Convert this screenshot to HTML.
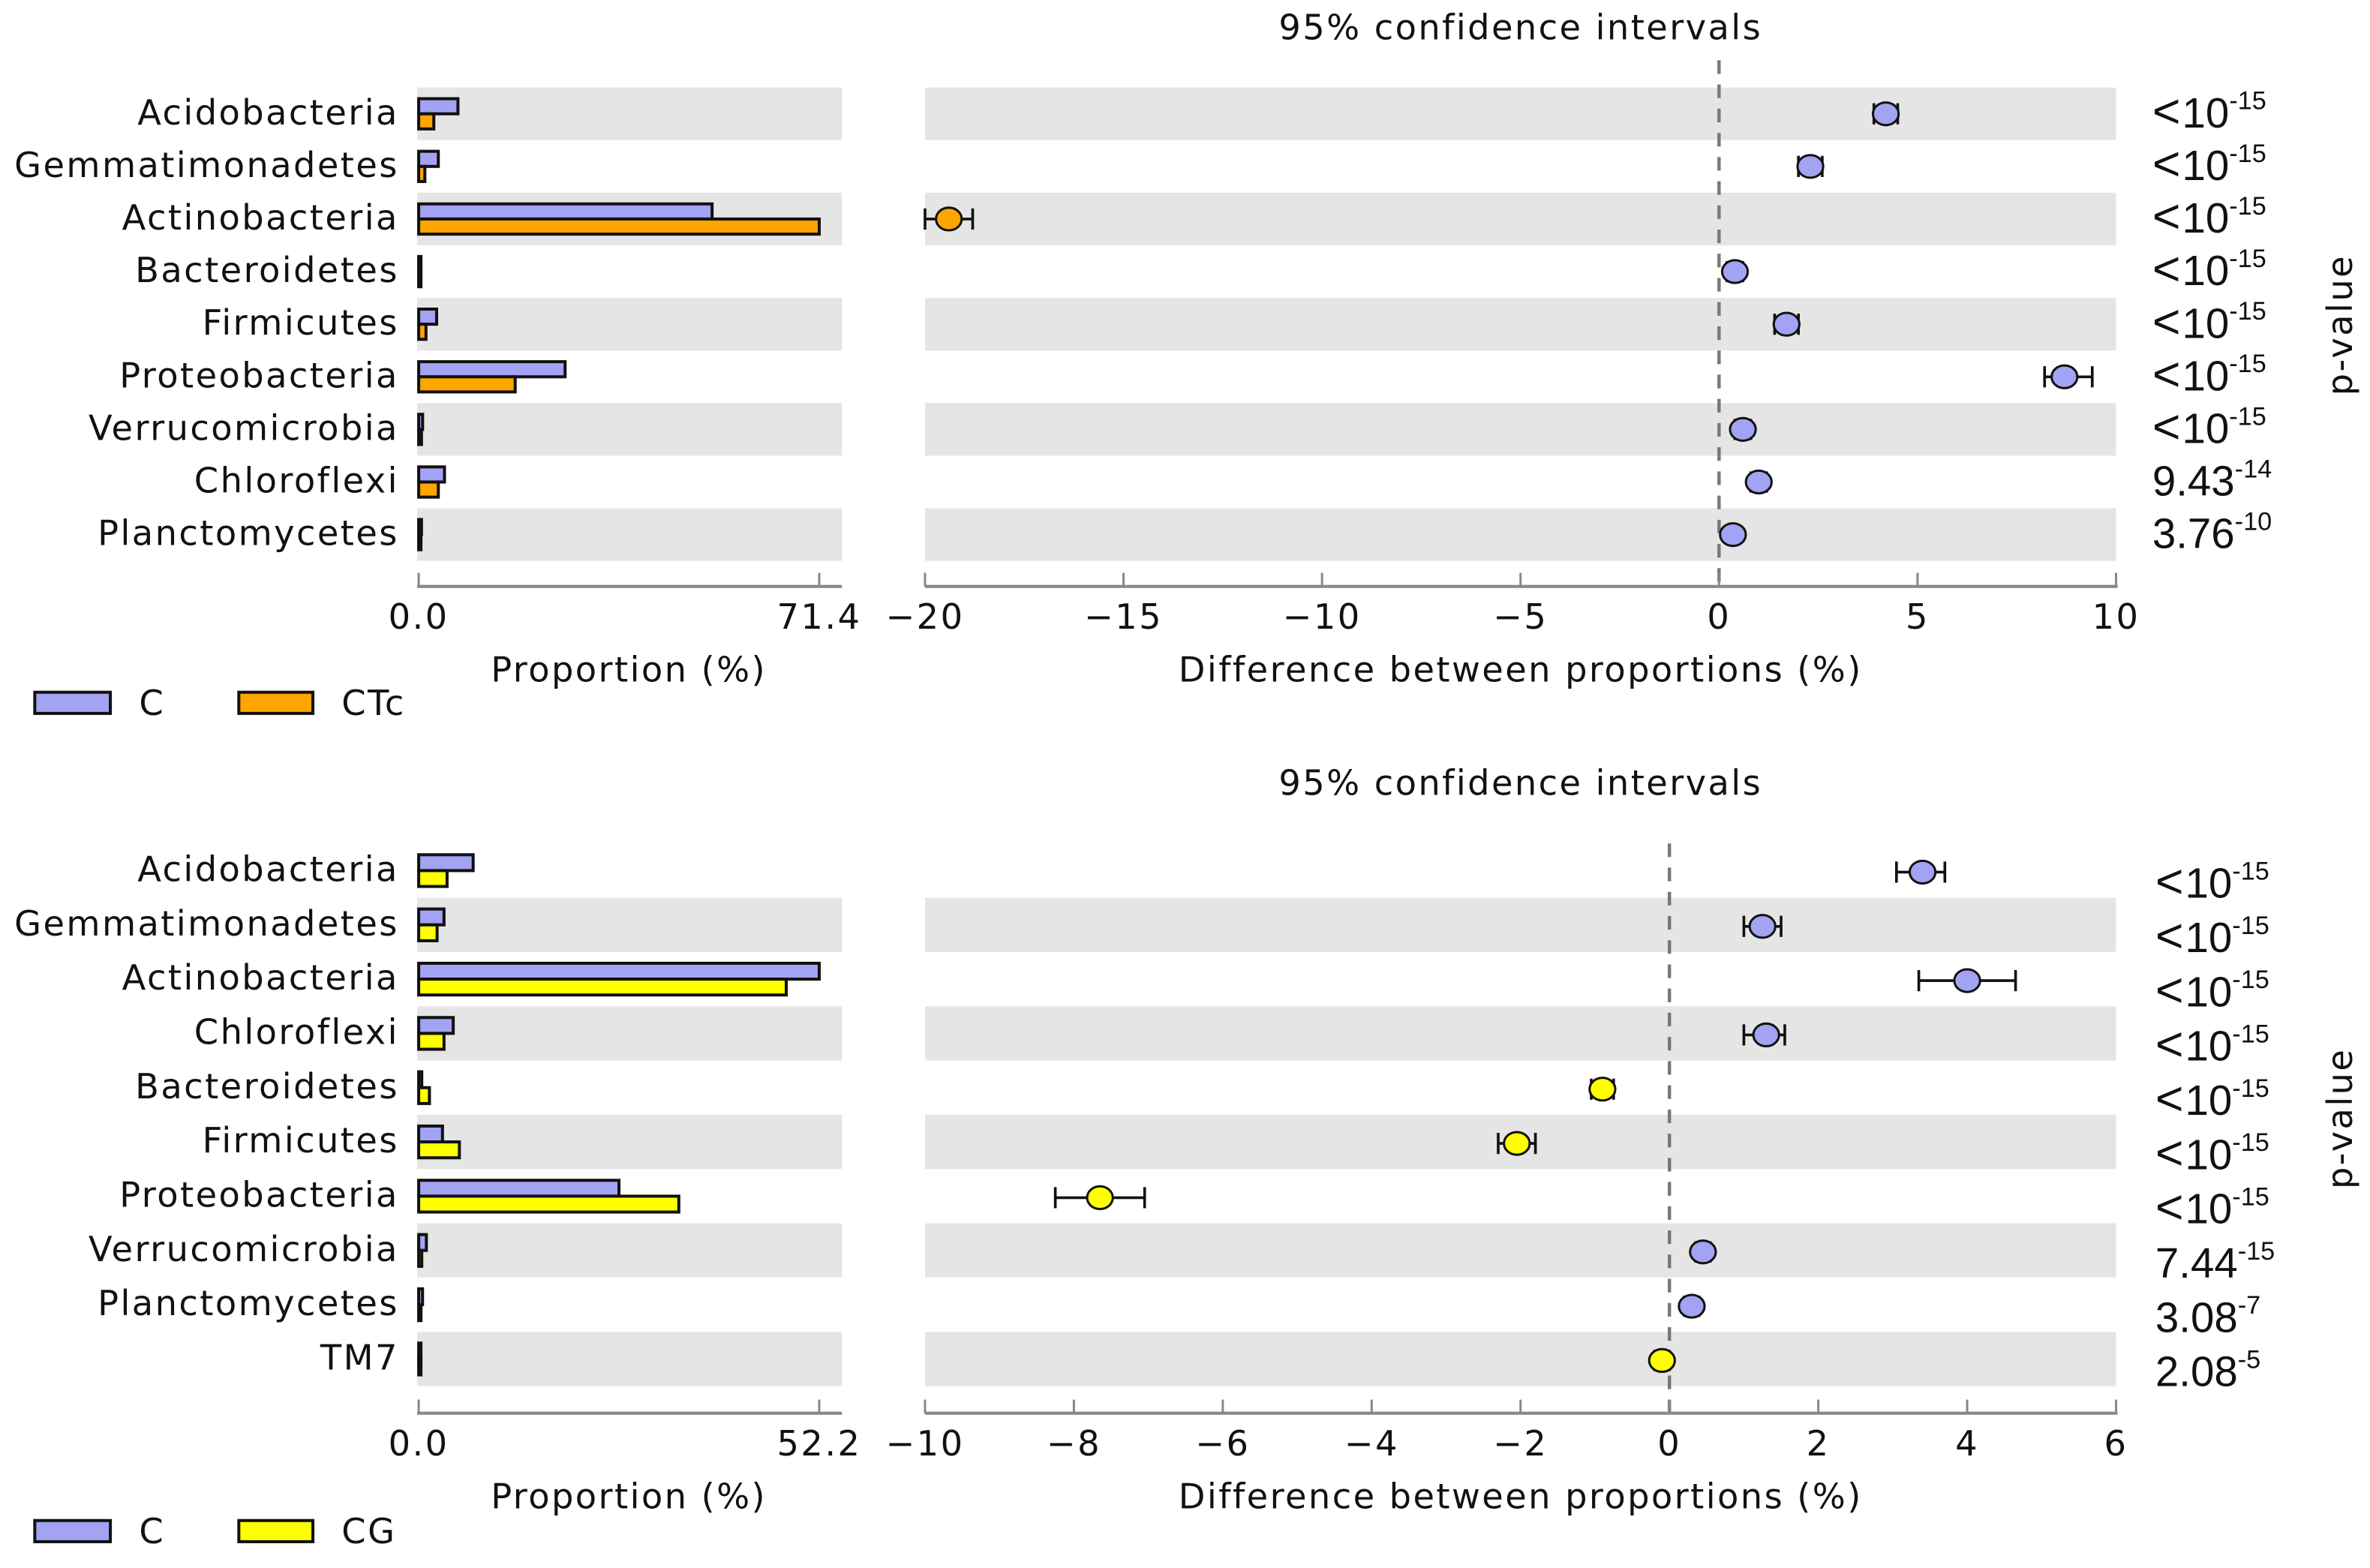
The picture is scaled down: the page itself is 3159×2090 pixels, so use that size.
<!DOCTYPE html>
<html><head><meta charset="utf-8"><style>
html,body{margin:0;padding:0;background:#fff;}
svg{display:block;font-family:"DejaVu Sans","Liberation Sans",sans-serif;}
</style></head><body>
<svg id="chart" width="3159" height="2090" viewBox="0 0 1568 1037.4" xmlns="http://www.w3.org/2000/svg"></svg>
<script>
// ---- Top panel data (C vs CTc) ----
const topCats = ["Acidobacteria","Gemmatimonadetes","Actinobacteria","Bacteroidetes","Firmicutes","Proteobacteria","Verrucomicrobia","Chloroflexi","Planctomycetes"];
const topC = [7.0,3.5,52.3,0.4,3.2,26.1,0.7,4.6,0.5];
const topT = [2.7,1.1,71.4,0.2,1.3,17.2,0.5,3.5,0.3];
const topDiff = [4.2,2.3,-19.4,0.4,1.7,8.7,0.6,1.0,0.35];
const topLo = [3.9,2.0,-20.0,0.2,1.4,8.2,0.4,0.8,0.2];
const topHi = [4.5,2.6,-18.8,0.6,2.0,9.4,0.8,1.2,0.5];
const topPBase = ["<10","<10","<10","<10","<10","<10","<10","9.43","3.76"];
const topPExp = ["-15","-15","-15","-15","-15","-15","-15","-14","-10"];
const topDiffTicks = [-20,-15,-10,-5,0,5,10];
// ---- Bottom panel data (C vs CG) ----
const botCats = ["Acidobacteria","Gemmatimonadetes","Actinobacteria","Chloroflexi","Bacteroidetes","Firmicutes","Proteobacteria","Verrucomicrobia","Planctomycetes","TM7"];
const botC = [7.1,3.3,52.2,4.5,0.4,3.1,26.1,1.0,0.5,0.1];
const botG = [3.7,2.4,47.9,3.3,1.4,5.3,33.9,0.4,0.3,0.1];
const botDiff = [3.4,1.25,4.0,1.3,-0.9,-2.05,-7.65,0.45,0.3,-0.1];
const botLo = [3.05,1.0,3.35,1.0,-1.05,-2.3,-8.25,0.35,0.2,-0.2];
const botHi = [3.7,1.5,4.65,1.55,-0.75,-1.8,-7.05,0.55,0.4,0.0];
const botPBase = ["<10","<10","<10","<10","<10","<10","<10","7.44","3.08","2.08"];
const botPExp = ["-15","-15","-15","-15","-15","-15","-15","-15","-7","-5"];
const botDiffTicks = [-10,-8,-6,-4,-2,0,2,4,6];

const NS="http://www.w3.org/2000/svg";
const svg=document.getElementById('chart');
function mk(tag,attrs,parent,text){const e=document.createElementNS(NS,tag);for(const k in attrs)e.setAttribute(k,attrs[k]);if(text!==undefined)e.textContent=text;(parent||svg).appendChild(e);return e;}
const LAV="#a3a3f3";
const FS=23, LS=1.2;

function panel(o){
  const g=mk('g',{});
  
  
  const n=o.cats.length;
  const rowY=i=>o.y0+i*o.step;
  const px=v=>277+(v/o.pmax)*265;
  const dx=v=>612+(v-o.dmin)/(o.dmax-o.dmin)*788;
  for(let i=0;i<n;i++){
    if(i%2===o.greyParity){
      const b=mk('rect',{x:276,y:rowY(i)-o.step/2,width:281,height:o.step,fill:"#e5e5e5"},g);
      
      const b2=mk('rect',{x:612,y:rowY(i)-o.step/2,width:788,height:o.step,fill:"#e5e5e5"},g);
      
    }
  }
  const zl=mk('line',{x1:dx(0),x2:dx(0),y1:rowY(0)-o.step/2-(o.dashExtra||0),y2:o.axisY,stroke:"#777","stroke-width":2.2,"stroke-dasharray":"9,7"},g);
  
  mk('line',{x1:276,x2:557,y1:o.axisY,y2:o.axisY,stroke:"#888","stroke-width":2},g);
  mk('line',{x1:612,x2:1401,y1:o.axisY,y2:o.axisY,stroke:"#888","stroke-width":2},g);
  [[0,"0.0"],[o.pmax,String(o.pmax)]].forEach(t=>{
    mk('line',{x1:px(t[0]),x2:px(t[0]),y1:o.axisY,y2:o.axisY-9,stroke:"#888","stroke-width":1.5},g);
    const tl=mk('text',{x:px(t[0]),y:o.axisY+28,"text-anchor":"middle","font-size":FS,"letter-spacing":LS,fill:"#111"},g,t[1]);
    
  });
  o.ticks.forEach(t=>{
    mk('line',{x1:dx(t),x2:dx(t),y1:o.axisY,y2:o.axisY-9,stroke:"#888","stroke-width":1.5},g);
    const tl=mk('text',{x:dx(t),y:o.axisY+28,"text-anchor":"middle","font-size":FS,"letter-spacing":LS,fill:"#111"},g,(t<0?"\u2212":"")+Math.abs(t));
    
  });
  for(let i=0;i<n;i++){
    const y=rowY(i);
    const lab=mk('text',{x:264,y:y+7,"text-anchor":"end","font-size":FS,"letter-spacing":LS,fill:"#111"},g,o.cats[i]);
    
    const b1=mk('rect',{x:277,y:y-o.bh,width:Math.max(px(o.a[i])-277,1.5),height:o.bh,fill:LAV,stroke:"#111","stroke-width":2},g);
    
    const b2=mk('rect',{x:277,y:y,width:Math.max(px(o.b[i])-277,1.5),height:o.bh,fill:o.color,stroke:"#111","stroke-width":2},g);
    
    const ey=y+o.dotOff;
    mk('line',{x1:dx(o.lo[i]),x2:dx(o.hi[i]),y1:ey,y2:ey,stroke:"#111","stroke-width":1.8},g);
    mk('line',{x1:dx(o.lo[i]),x2:dx(o.lo[i]),y1:ey-7,y2:ey+7,stroke:"#111","stroke-width":1.8},g);
    mk('line',{x1:dx(o.hi[i]),x2:dx(o.hi[i]),y1:ey-7,y2:ey+7,stroke:"#111","stroke-width":1.8},g);
    const dot=mk('ellipse',{cx:dx(o.d[i]),cy:ey,rx:8.5,ry:7.5,fill:o.d[i]>=0?LAV:o.color,stroke:"#111","stroke-width":1.5},g);
    
    const pt=mk('text',{x:o.px,y:y+o.pOff,"font-size":28,fill:"#111","font-family":"Liberation Sans, sans-serif"},g);
    
    const isLt=o.pb[i].startsWith("<");
    if(isLt){
      mk('tspan',{"font-size":32,"letter-spacing":1},pt,"<");
      mk('tspan',{},pt,o.pb[i].slice(1));
    } else mk('tspan',{},pt,o.pb[i]);
    mk('tspan',{"font-size":17,dy:-12},pt,o.pe[i]);
  }
  const t1=mk('text',{x:1006,y:o.titleY,"text-anchor":"middle","font-size":FS,"letter-spacing":LS,fill:"#111"},g,"95% confidence intervals");
  
  const t2=mk('text',{x:416,y:o.axisY+63,"text-anchor":"middle","font-size":FS,"letter-spacing":LS,fill:"#111"},g,"Proportion (%)");
  
  const t3=mk('text',{x:1006,y:o.axisY+63,"text-anchor":"middle","font-size":FS,"letter-spacing":LS,fill:"#111"},g,"Difference between proportions (%)");
  
  const t4=mk('text',{x:0,y:0,"text-anchor":"middle","font-size":FS,"letter-spacing":LS,fill:"#111",transform:`translate(1556,${o.pvY}) rotate(-90)`},g,"p-value");
  
  const ly=o.legY;
  const l1=mk('rect',{x:23,y:ly-7,width:50,height:14,fill:LAV,stroke:"#111","stroke-width":2},g);
  
  const lt1=mk('text',{x:92,y:ly+8,"font-size":FS,"letter-spacing":LS,fill:"#111"},g,"C");
  
  const l2=mk('rect',{x:158,y:ly-7,width:49,height:14,fill:o.color,stroke:"#111","stroke-width":2},g);
  
  const lt2=mk('text',{x:226,y:ly+8,"font-size":FS,"letter-spacing":LS,fill:"#111"},g,o.g2label);
  
}
panel({name:'top-panel',cats:topCats,a:topC,b:topT,d:topDiff,lo:topLo,hi:topHi,pb:topPBase,pe:topPExp,ticks:topDiffTicks,
  y0:75.3,step:34.8,pmax:71.4,dmin:-20,dmax:10,axisY:388,greyParity:0,bh:10,color:"#ffa500",g2:'ctc',g2label:'CTc',
  dotOff:0,pOff:9,px:1424,titleY:26,pvY:215,legY:465,dashExtra:18});
panel({name:'bottom-panel',cats:botCats,a:botC,b:botG,d:botDiff,lo:botLo,hi:botHi,pb:botPBase,pe:botPExp,ticks:botDiffTicks,
  y0:576,step:35.9,pmax:52.2,dmin:-10,dmax:6,axisY:935,greyParity:1,bh:10.5,color:"#ffff00",g2:'cg',g2label:'CG',
  dotOff:1,pOff:18,px:1426,titleY:526,pvY:740,legY:1013,dashExtra:0});
</script>
</body></html>
